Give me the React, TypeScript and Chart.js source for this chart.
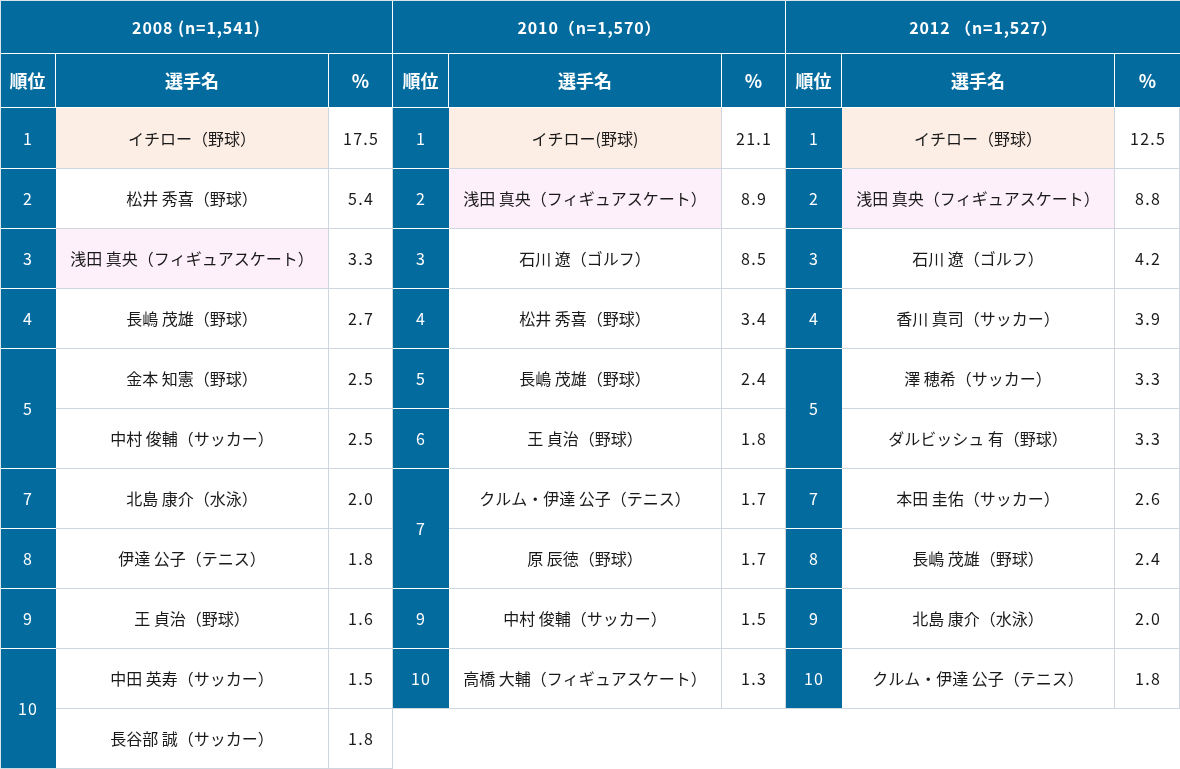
import React, { useEffect, useRef } from "react";
import { Chart, registerables } from "chart.js";

Chart.register(...registerables);

// ---- Data ----
const yearHeaders = ["2008 (n=1,541)", "2010（n=1,570）", "2012 （n=1,527）"];
const columnHeaders = ["順位", "選手名", "%"];

const ranks2008 = [1, 2, 3, 4, 5, 5, 7, 8, 9, 10, 10];
const names2008 = [
  "イチロー（野球）",
  "松井 秀喜（野球）",
  "浅田 真央（フィギュアスケート）",
  "長嶋 茂雄（野球）",
  "金本 知憲（野球）",
  "中村 俊輔（サッカー）",
  "北島 康介（水泳）",
  "伊達 公子（テニス）",
  "王 貞治（野球）",
  "中田 英寿（サッカー）",
  "長谷部 誠（サッカー）",
];
const pct2008 = [17.5, 5.4, 3.3, 2.7, 2.5, 2.5, 2.0, 1.8, 1.6, 1.5, 1.8];

const ranks2010 = [1, 2, 3, 4, 5, 6, 7, 7, 9, 10];
const names2010 = [
  "イチロー(野球)",
  "浅田 真央（フィギュアスケート）",
  "石川 遼（ゴルフ）",
  "松井 秀喜（野球）",
  "長嶋 茂雄（野球）",
  "王 貞治（野球）",
  "クルム・伊達 公子（テニス）",
  "原 辰徳（野球）",
  "中村 俊輔（サッカー）",
  "高橋 大輔（フィギュアスケート）",
];
const pct2010 = [21.1, 8.9, 8.5, 3.4, 2.4, 1.8, 1.7, 1.7, 1.5, 1.3];

const ranks2012 = [1, 2, 3, 4, 5, 5, 7, 8, 9, 10];
const names2012 = [
  "イチロー（野球）",
  "浅田 真央（フィギュアスケート）",
  "石川 遼（ゴルフ）",
  "香川 真司（サッカー）",
  "澤 穂希（サッカー）",
  "ダルビッシュ 有（野球）",
  "本田 圭佑（サッカー）",
  "長嶋 茂雄（野球）",
  "北島 康介（水泳）",
  "クルム・伊達 公子（テニス）",
];
const pct2012 = [12.5, 8.8, 4.2, 3.9, 3.3, 3.3, 2.6, 2.4, 2.0, 1.8];

const groupRanks = [ranks2008, ranks2010, ranks2012];
const groupNames = [names2008, names2010, names2012];
const groupPct = [pct2008, pct2010, pct2012];

// ---- Styles / layout ----
const W = 1180;
const H = 769;
const BLUE = "#046b9e";
const GRID = "#cfd6de";
const TEXT = "#1a1a1a";
const highlightStyles: [string, string][] = [
  ["イチロー", "#fdeee5"],
  ["浅田 真央", "#fdf0fa"],
];
const FONT = '"Noto Sans CJK JP", "Noto Sans", sans-serif';
const groupLeft = [0, 393, 786];
const groupRight = [392, 785, 1179];
const RANK_W = 56;
const NAME_END = 328;
const HEAD1 = 53;
const BODY_TOP = 108;
const ROW_H = 60;

const tablePlugin = {
  id: "rankTable",
  afterDraw(chart: any) {
    const ctx: any = chart.ctx;
    const sx = chart.scales.x;
    const sy = chart.scales.y;
    const X = (v: number) => sx.getPixelForValue(v);
    const Y = (v: number) => sy.getPixelForValue(v);
    const rect = (x0: number, y0: number, x1: number, y1: number, c: string) => {
      ctx.fillStyle = c;
      ctx.fillRect(X(x0), Y(y0), X(x1) - X(x0), Y(y1) - Y(y0));
    };
    const text = (s: string, x: number, y: number, font: string, c: string, ls = 0) => {
      ctx.font = font;
      ctx.fillStyle = c;
      ctx.textAlign = "center";
      ctx.textBaseline = "middle";
      ctx.letterSpacing = `${ls}px`;
      ctx.fillText(s, X(x) + ls / 2, Y(y));
      ctx.letterSpacing = "0px";
    };
    const rowTop = (k: number) => BODY_TOP + ROW_H * k;

    ctx.save();
    rect(0, 0, W, H, "#ffffff");
    rect(0, 0, W, BODY_TOP, BLUE);

    for (let g = 0; g < 3; g++) {
      const L = groupLeft[g];
      const R = groupRight[g];
      const ranks = groupRanks[g];
      const names = groupNames[g];
      const pcts = groupPct[g];
      const n = names.length;
      const bottom = rowTop(n);

      rect(L, BODY_TOP, L + RANK_W, bottom, BLUE);
      names.forEach((nm, k) => {
        const hl = highlightStyles.find(([key]) => nm.startsWith(key));
        if (hl) rect(L + RANK_W, rowTop(k), L + NAME_END, rowTop(k + 1), hl[1]);
      });
      for (let k = 1; k <= n; k++) {
        const y = rowTop(k);
        rect(L + RANK_W, y, R + 1, y + 1, GRID);
        if (k === n) rect(L, y, L + RANK_W, y + 1, GRID);
        else if (ranks[k] !== ranks[k - 1]) rect(L, y, L + RANK_W, y + 1, "#ffffff");
      }
      rect(L + NAME_END, BODY_TOP, L + NAME_END + 1, bottom + 1, GRID);
      rect(R, BODY_TOP, R + 1, bottom + 1, GRID);

      rect(L + RANK_W - 1, HEAD1 + 1, L + RANK_W, BODY_TOP, "#ffffff");
      rect(L + NAME_END, HEAD1 + 1, L + NAME_END + 1, BODY_TOP, "#ffffff");
      if (g < 2) rect(R, 0, R + 1, BODY_TOP, "#ffffff");

      const gR = g < 2 ? R : W;
      text(yearHeaders[g], (L + gR) / 2, HEAD1 / 2 + 1, `bold 16px ${FONT}`, "#ffffff", 0.9);
      const hy = (HEAD1 + 1 + BODY_TOP - 1) / 2 + 1;
      text(columnHeaders[0], L + (RANK_W - 1) / 2, hy, `bold 18px ${FONT}`, "#ffffff");
      text(columnHeaders[1], L + (RANK_W + NAME_END) / 2, hy, `bold 18px ${FONT}`, "#ffffff");
      text(columnHeaders[2], (L + NAME_END + 1 + gR) / 2, hy, `bold 18px ${FONT}`, "#ffffff");

      let k = 0;
      while (k < n) {
        let e = k;
        while (e + 1 < n && ranks[e + 1] === ranks[k]) e++;
        const cy = (rowTop(k) + rowTop(e + 1)) / 2 + 1;
        text(String(ranks[k]), L + (RANK_W - 1) / 2, cy, `16px ${FONT}`, "#ffffff", 1);
        k = e + 1;
      }
      names.forEach((nm, i) => {
        const cy = (rowTop(i) + rowTop(i + 1)) / 2 + 1;
        text(nm, L + (RANK_W + NAME_END) / 2, cy, `16px ${FONT}`, TEXT);
        text(pcts[i].toFixed(1), (L + NAME_END + 1 + gR) / 2, cy, `16px ${FONT}`, TEXT, 1.3);
      });
    }

    rect(0, HEAD1, W, HEAD1 + 1, "#ffffff");
    rect(0, BODY_TOP - 1, W, BODY_TOP, "#ffffff");
    rect(0, 0, W, 1, "#dde3ea");
    rect(0, 0, 1, rowTop(groupNames[0].length) + 1, "#dde3ea");
    ctx.restore();
  },
};

export default function App() {
  const ref = useRef<HTMLCanvasElement | null>(null);
  useEffect(() => {
    document.body.style.margin = "0";
    const canvas = ref.current;
    if (!canvas) return;
    const chart = new Chart(canvas, {
      type: "scatter",
      data: { datasets: [] },
      options: {
        animation: false,
        responsive: false,
        devicePixelRatio: 1,
        layout: { padding: 0 },
        plugins: { legend: { display: false }, tooltip: { enabled: false } },
        scales: {
          x: { type: "linear", min: 0, max: W, display: false },
          y: { type: "linear", min: 0, max: H, reverse: true, display: false },
        },
      },
      plugins: [tablePlugin],
    });
    return () => chart.destroy();
  }, []);
  return (
    <div style={{ width: W, height: H }}>
      <canvas ref={ref} width={W} height={H} style={{ display: "block", width: W, height: H }} />
    </div>
  );
}
